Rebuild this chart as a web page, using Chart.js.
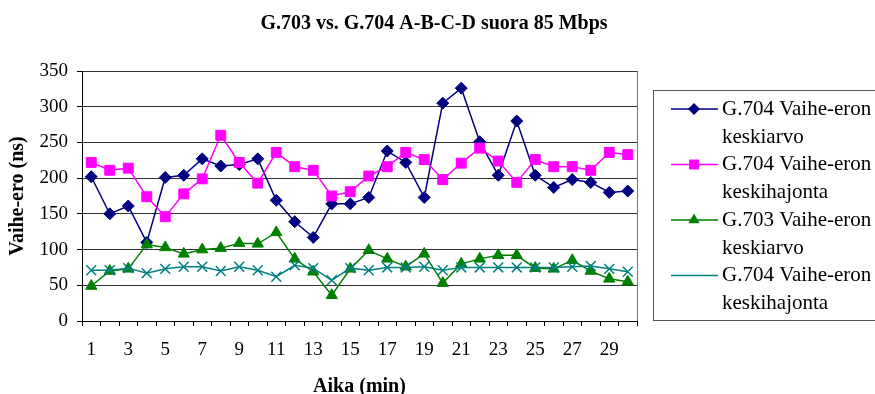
<!DOCTYPE html>
<html>
<head>
<meta charset="utf-8">
<title>G.703 vs. G.704</title>
<script src="https://cdn.jsdelivr.net/npm/chart.js"></script>
<style>
  html, body { margin: 0; padding: 0; background: #fff; }
  canvas { display: block; }
</style>
</head>
<body>
<canvas id="phase-chart" width="875" height="394"></canvas>
<script>
// minutes on the x axis
const minutes = [1, 2, 3, 4, 5, 6, 7, 8, 9, 10, 11, 12, 13, 14, 15, 16, 17, 18, 19, 20, 21, 22, 23, 24, 25, 26, 27, 28, 29, 30]

// phase difference in ns
const g704Mean = [202, 150, 161, 110, 201, 204, 227, 217, 219, 227, 169, 139, 117, 164, 164, 173, 238, 222, 173, 305, 326, 251, 204, 280, 204, 187, 198, 194, 180, 182]
const g704Dev = [222, 211, 214, 174, 146, 178, 199, 260, 222, 193, 236, 216, 211, 175, 181, 203, 216, 236, 226, 198, 221, 242, 224, 194, 226, 216, 216, 211, 236, 233]
const g703Mean = [49, 70, 73, 107, 103, 94, 100, 102, 109, 108, 124, 87, 69, 36, 73, 99, 87, 76, 94, 53, 80, 87, 92, 92, 74, 73, 85, 70, 59, 55]
const g704Dev2 = [71, 71, 74, 67, 73, 76, 76, 70, 76, 71, 62, 78, 74, 57, 74, 71, 75, 75, 76, 71, 75, 75, 75, 75, 75, 75, 76, 77, 73, 69]

const yTicks = [0, 50, 100, 150, 200, 250, 300, 350]

const legendLines = [
    ['G.704 Vaihe-eron', 'keskiarvo'],
    ['G.704 Vaihe-eron', 'keskihajonta'],
    ['G.703 Vaihe-eron', 'keskiarvo'],
    ['G.704 Vaihe-eron', 'keskihajonta']
]

const SERIF = '"Liberation Serif", "Times New Roman", serif'

const series = (data, color, style, radius, order) => ({
    data: data,
    borderColor: color,
    backgroundColor: color,
    borderWidth: 1.5,
    pointStyle: style,
    pointRadius: radius,
    pointBorderWidth: style == 'crossRot' ? 1.5 : 1,
    pointBackgroundColor: color,
    pointBorderColor: color,
    tension: 0,
    order: order
})

// title, plot frame and the boxed legend on the right
const decorations = {
    id: 'decorations',
    afterDraw(chart) {
        const ctx = chart.ctx
        const area = chart.chartArea
        ctx.save()

        ctx.fillStyle = '#000'
        ctx.font = 'bold 20px ' + SERIF
        ctx.textAlign = 'center'
        ctx.textBaseline = 'middle'
        ctx.fillText('G.703 vs. G.704 A-B-C-D suora 85 Mbps', 434, 24)

        ctx.strokeStyle = '#777'
        ctx.lineWidth = 1
        ctx.beginPath()
        ctx.moveTo(Math.round(area.right) + 0.5, area.top)
        ctx.lineTo(Math.round(area.right) + 0.5, area.bottom)
        ctx.stroke()

        ctx.strokeStyle = '#555'
        ctx.strokeRect(653.5, 90.5, 240, 230)

        ctx.font = '21px ' + SERIF
        ctx.textAlign = 'left'
        chart.data.datasets.forEach((ds, i) => {
            const y = 109 + i * 55.5
            ctx.strokeStyle = ds.borderColor
            ctx.lineWidth = 1.5
            ctx.beginPath()
            ctx.moveTo(671, y)
            ctx.lineTo(718, y)
            ctx.stroke()
            ctx.fillStyle = ds.pointBackgroundColor
            ctx.strokeStyle = ds.pointBorderColor
            ctx.lineWidth = ds.pointBorderWidth
            Chart.helpers.drawPoint(ctx, {
                pointStyle: ds.pointStyle,
                radius: ds.pointRadius,
                rotation: 0
            }, 694, y)
            ctx.fillStyle = '#000'
            ctx.fillText(legendLines[i][0], 722, y)
            ctx.fillText(legendLines[i][1], 722, y + 28)
        })
        ctx.restore()
    }
}

const phaseCtx = document.getElementById('phase-chart').getContext('2d')
const phaseChart = new Chart(phaseCtx, {
    type: 'line',
    data: {
        labels: minutes,
        datasets: [
            series(g704Mean, '#000080', 'rectRot', 6, 3),
            series(g704Dev, '#ff00ff', 'rect', 7, 2),
            series(g703Mean, '#008000', 'triangle', 6.5, 1),
            series(g704Dev2, '#008080', 'crossRot', 7, 0)
        ]
    },
    options: {
        responsive: false,
        animation: false,
        devicePixelRatio: 1,
        layout: {
            padding: { top: 71, right: 238, left: 0, bottom: 0 }
        },
        plugins: {
            legend: { display: false },
            tooltip: { enabled: false },
            title: { display: false }
        },
        scales: {
            x: {
                type: 'category',
                offset: true,
                afterFit: (s) => { s.height = 73 },
                border: { color: '#000', width: 1 },
                grid: {
                    offset: true,
                    drawOnChartArea: false,
                    drawTicks: true,
                    tickLength: 5,
                    color: '#000'
                },
                ticks: {
                    autoSkip: false,
                    maxRotation: 0,
                    padding: 13,
                    color: '#000',
                    font: { family: SERIF, size: 19 },
                    callback: (val, i) => (i % 2 == 0 ? minutes[i] : '')
                },
                title: {
                    display: true,
                    text: 'Aika (min)',
                    color: '#000',
                    font: { family: SERIF, size: 20, weight: 'bold' },
                    padding: { top: 0, bottom: -5 }
                }
            },
            y: {
                min: yTicks[0],
                max: yTicks[yTicks.length - 1],
                afterFit: (s) => { s.width = 82 },
                afterBuildTicks: (s) => { s.ticks = yTicks.map(v => ({ value: v })) },
                border: { color: '#000', width: 1 },
                grid: {
                    color: '#333',
                    lineWidth: 1,
                    drawTicks: true,
                    tickLength: 5,
                    tickColor: '#000'
                },
                ticks: {
                    padding: 9,
                    color: '#000',
                    font: { family: SERIF, size: 19 }
                },
                title: {
                    display: true,
                    text: 'Vaihe-ero (ns)',
                    color: '#000',
                    font: { family: SERIF, size: 20, weight: 'bold' },
                    padding: { top: 6, bottom: 0 }
                }
            }
        }
    },
    plugins: [decorations]
})
</script>
</body>
</html>
